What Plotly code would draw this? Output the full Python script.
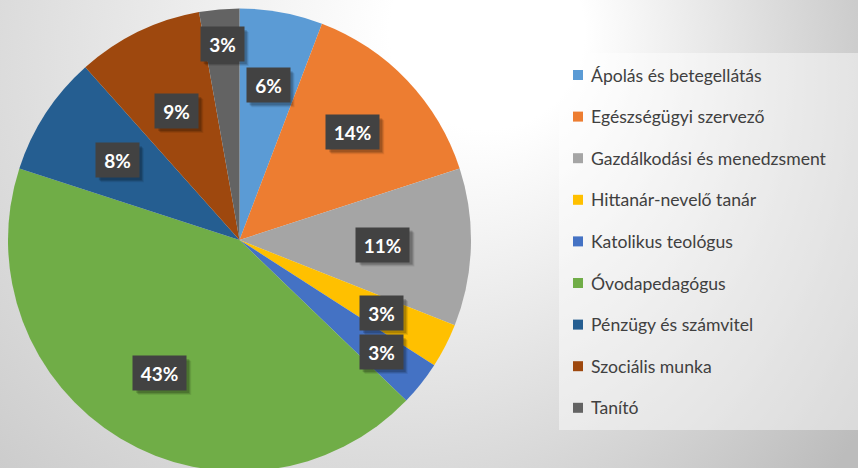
import math
import base64
import plotly.graph_objects as go

# ---- data ----
categories = ["Ápolás és betegellátás", "Egészségügyi szervező", "Gazdálkodási és menedzsment",
              "Hittanár-nevelő tanár", "Katolikus teológus", "Óvodapedagógus",
              "Pénzügy és számvitel", "Szociális munka", "Tanító"]
shares = [5.8, 14.2, 11.0, 3.1, 3.1, 42.8, 8.4, 8.8, 2.8]
colors = ["#5B9BD5", "#ED7D31", "#A5A5A5", "#FFC000", "#4472C4",
          "#70AD47", "#255E91", "#9E480E", "#636363"]
# radial position of each data label as a fraction of pie radius (style)
label_r = [0.68, 0.675, 0.62, 0.69, 0.78, 0.67, 0.63, 0.62, 0.85]

W, H = 858, 480
CX, CY, R = 239.5, 240.0, 231.5
FONT = "Lato"

svg = f'''<svg xmlns="http://www.w3.org/2000/svg" width="{W}" height="{H}">
<defs><radialGradient id="g" gradientUnits="userSpaceOnUse" cx="300" cy="100" r="650" fx="520" fy="20">
<stop offset="0" stop-color="#ffffff"/><stop offset="0.15" stop-color="#ffffff"/>
<stop offset="1" stop-color="#bcbcbc"/></radialGradient></defs>
<rect x="0" y="0" width="{W}" height="{H}" fill="url(#g)"/></svg>'''
bg_uri = "data:image/svg+xml;base64," + base64.b64encode(svg.encode()).decode()

fig = go.Figure()
fig.add_trace(go.Pie(
    labels=categories, values=shares, sort=False, direction="clockwise", rotation=0,
    marker=dict(colors=colors, line=dict(width=0)), textinfo="none", hoverinfo="label+percent",
    domain=dict(x=[(CX - R) / W, (CX + R) / W], y=[0, 1]), showlegend=False,
))

total = sum(shares)
annotations = []
shapes = []
cum = 0.0
PAD = 6
BOX_H = 22
for name, v, rf in zip(categories, shares, label_r):
    f = (cum + v / 2) / total
    cum += v
    th = 2 * math.pi * f
    px = CX + rf * R * math.sin(th)
    py = CY - rf * R * math.cos(th)
    txt = f"{round(v / total * 100)}%"
    wbox = (29 if len(txt) > 2 else 19) + 12
    hw = wbox / 2 + PAD
    hh = BOX_H / 2 + PAD
    for off, a in ((5, 0.08), (4, 0.12), (3, 0.16)):
        shapes.append(dict(type="rect", xref="paper", yref="paper",
                           x0=(px - hw + off) / W, x1=(px + hw + off) / W,
                           y0=1 - (py + hh + off) / H, y1=1 - (py - hh + off) / H,
                           fillcolor=f"rgba(0,0,0,{a})", line=dict(width=0), layer="above"))
    annotations.append(dict(xref="paper", yref="paper", showarrow=False, text=f"<b>{txt}</b>",
                            width=wbox, height=BOX_H, borderpad=PAD, xanchor="center", yanchor="middle",
                            x=px / W, y=1 - py / H, bgcolor="#424242",
                            font=dict(family=FONT, size=19, color="#ffffff")))

# manual legend
shapes.insert(0, dict(type="rect", xref="paper", yref="paper", x0=559 / W, x1=1.0,
                      y0=1 - 430 / H, y1=1 - 53 / H,
                      fillcolor="rgba(255,255,255,0.45)", line=dict(width=0), layer="below"))
for i, (name, c) in enumerate(zip(categories, colors)):
    yc = 75 + i * 41.6
    shapes.append(dict(type="rect", xref="paper", yref="paper", x0=573 / W, x1=583 / W,
                       y0=1 - (yc + 5) / H, y1=1 - (yc - 5) / H, fillcolor=c, line=dict(width=0)))
    annotations.append(dict(xref="paper", yref="paper", x=589 / W, y=1 - yc / H, text=name,
                            showarrow=False, xanchor="left", yanchor="middle",
                            font=dict(family=FONT, size=17.6, color="#404040")))

fig.update_layout(
    width=W, height=H, margin=dict(l=0, r=0, t=0, b=0),
    paper_bgcolor="#dcdcdc", plot_bgcolor="rgba(0,0,0,0)",
    images=[dict(source=bg_uri, xref="paper", yref="paper", x=0, y=1, sizex=1, sizey=1,
                 xanchor="left", yanchor="top", sizing="stretch", layer="below")],
    shapes=shapes, annotations=annotations,
    xaxis=dict(visible=False), yaxis=dict(visible=False),
)

fig.write_html("out.html", config={"displayModeBar": False},
               post_script="document.body.style.margin='0';document.body.style.overflow='hidden';")
